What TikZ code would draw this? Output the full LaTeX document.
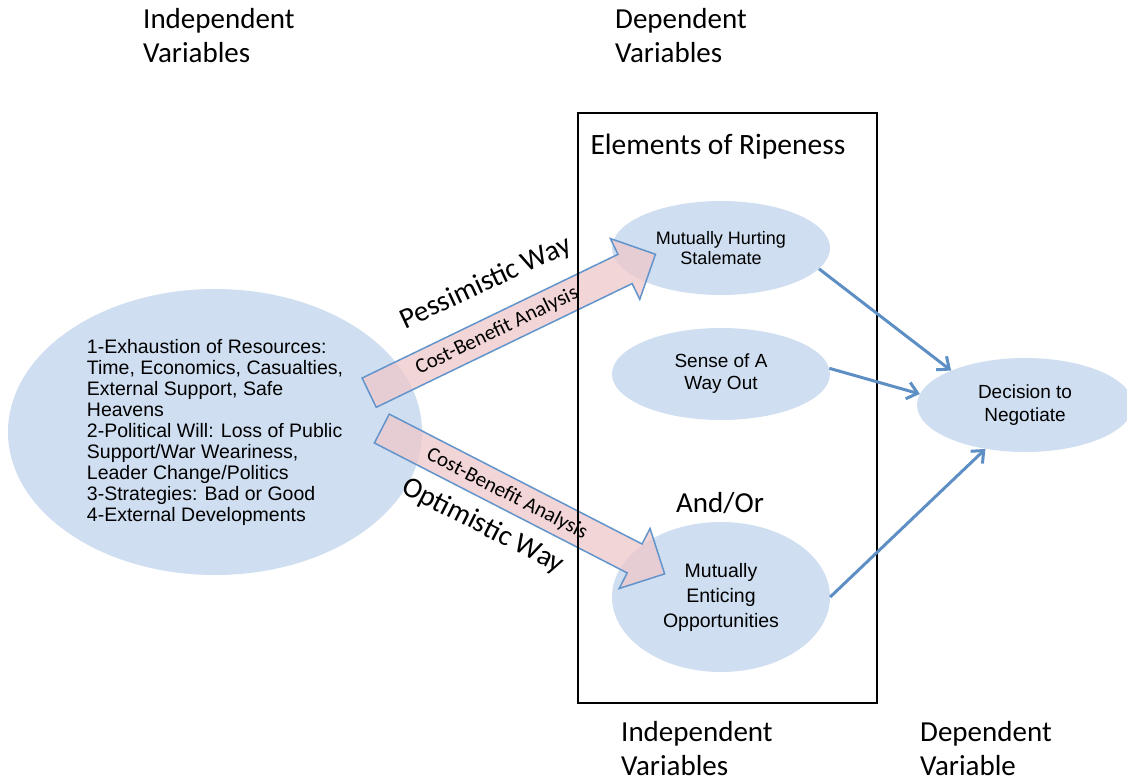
\documentclass[tikz,border=0pt]{standalone}
\usepackage{fontspec}
\usepackage{xcolor}
\usepackage{tikz}
\usetikzlibrary{
    shapes.geometric,
    shapes.arrows,
    arrows.meta
}
\newfontfamily\calfont{Carlito}
\newfontfamily\arialfont{Liberation Sans}
\definecolor{ripeblue}{RGB}{207,222,240}
\definecolor{linkblue}{RGB}{94,143,196}
\definecolor{wayborder}{RGB}{98,148,204}
\definecolor{waypink}{RGB}{238,200,202}

\begin{document}
\begin{tikzpicture}[x=1pt,y=-1pt,>={Straight Barb[length=10pt,width=17pt]}]
    \tikzstyle{blob}=[ellipse, fill=ripeblue, align=center, inner sep=0pt]
    \tikzstyle{head}=[align=left, inner sep=0pt, font=\calfont\fontsize{29}{34}\selectfont]
    \tikzstyle{way}=[single arrow, draw=wayborder, line width=1.5pt, fill=waypink, fill opacity=0.75, minimum height=318pt, single arrow head extend=17.5pt, inner xsep=0pt, inner ysep=15.5pt]
    \tikzstyle{link}=[->, draw=linkblue, line width=3pt]
	\useasboundingbox (0, 0) rectangle (1127, 782);

	\node [head, anchor=west] (indtop) at (143, 36) {Independent\\ Variables};
	\node [head, anchor=west] (deptop) at (615, 36) {Dependent\\ Variables};
	\node [head, anchor=west] (indbot) at (621, 749) {Independent\\ Variables};
	\node [head, anchor=west] (depbot) at (920, 749) {Dependent\\ Variable};

	\node [blob, align=left, minimum width=414pt, minimum height=286pt, font=\arialfont\fontsize{19.5}{21}\selectfont] (causes) at (215, 432) {1-Exhaustion of Resources:\\ Time, Economics, Casualties,\\ External Support, Safe\\ Heavens\\ 2-Political Will: Loss of Public\\ Support/War Weariness,\\ Leader Change/Politics\\ 3-Strategies: Bad or Good\\ 4-External Developments};

	\node [blob, minimum width=218pt, minimum height=94pt, font=\arialfont\fontsize{18}{20}\selectfont] (mhs) at (721, 248) {Mutually Hurting\\ Stalemate};
	\node [blob, minimum width=218pt, minimum height=92pt, font=\arialfont\fontsize{19}{22}\selectfont] (sense) at (721, 374) {Sense of A\\ Way Out};
	\node [blob, minimum width=218pt, minimum height=150pt, font=\arialfont\fontsize{19.5}{25}\selectfont] (meo) at (721, 597) {Mutually\\ Enticing\\ Opportunities};
	\node [blob, minimum width=216pt, minimum height=94pt, font=\arialfont\fontsize{19}{23}\selectfont] (dtn) at (1025, 405) {Decision to\\ Negotiate};

	\node [way, rotate=25.8] (pess) at (505, 327) {};
	\node [way, rotate=-27.2] (opt) at (516, 497.5) {};

	\node [rotate=25.8, font=\calfont\fontsize{21}{21}\selectfont] (costup) at (497, 331) {Cost-Benefit Analysis};
	\node [rotate=-27.2, font=\calfont\fontsize{21}{21}\selectfont] (costdown) at (507, 494) {Cost-Benefit Analysis};
	\node [rotate=25, font=\calfont\fontsize{29}{29}\selectfont] (pesslabel) at (486, 283) {Pessimistic Way};
	\node [rotate=-27, font=\calfont\fontsize{29}{29}\selectfont] (optlabel) at (483, 526) {Optimistic Way};

	\node [draw, line width=1.5pt, minimum width=299pt, minimum height=590pt, inner sep=0pt] (ripeness) at (727.5, 408) {};
	\node [font=\calfont\fontsize{29.5}{29.5}\selectfont] (ripetitle) at (718, 147) {Elements of Ripeness};
	\node [font=\calfont\fontsize{29}{29}\selectfont] (andor) at (720, 503) {And/Or};

	\draw [link] (mhs.-12) -- (dtn.155);
	\draw [link] (sense.3) -- (dtn.174);
	\draw [link] (meo.0) -- (dtn.228);
\end{tikzpicture}
\end{document}
